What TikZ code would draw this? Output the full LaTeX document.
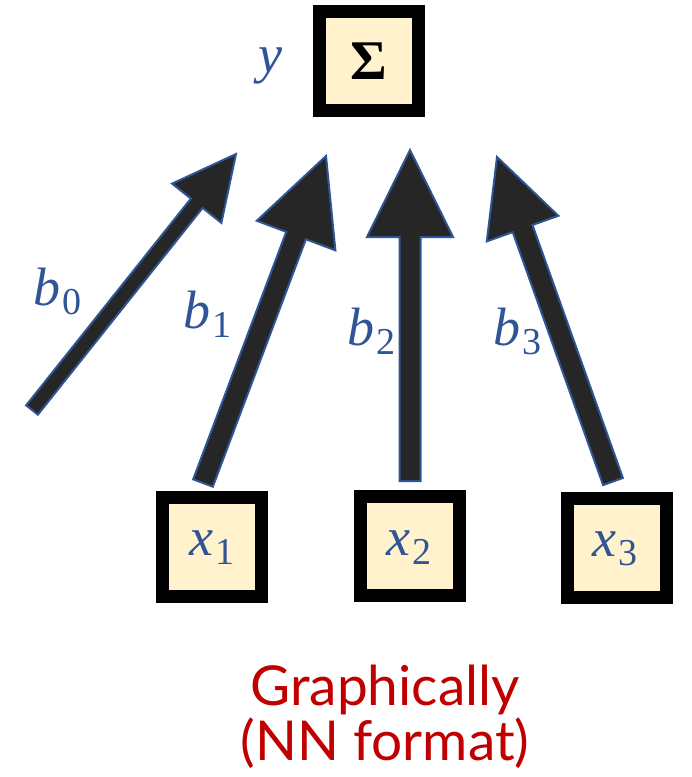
\documentclass[tikz,border=0pt]{standalone}
\usepackage{fontspec}
\newfontfamily\redfont{Lato}
\newfontfamily\sigfont{Liberation Serif}
\usetikzlibrary{calc}
\definecolor{cream}{HTML}{FFF2CC}
\definecolor{mblue}{HTML}{2F5597}
\definecolor{adark}{HTML}{262626}
\definecolor{mred}{HTML}{C00000}
\newcommand\blockarrow[5]{%
  \coordinate (H) at ($(#2)!#5!(#1)$);
  \draw[arrowstyle] ($(#1)!#3!90:(#2)$) -- ($(H)!#3!-90:(#1)$) -- ($(H)!#4!-90:(#1)$)
    -- (#2) -- ($(H)!#4!90:(#1)$) -- ($(H)!#3!90:(#1)$) -- ($(#1)!#3!-90:(#2)$) -- cycle;}
\newcommand\vsub[2]{{\itshape #1}\kern2pt\raisebox{-9pt}{\fontsize{38}{40}\selectfont #2}}
\begin{document}
\begin{tikzpicture}[x=1pt,y=-1pt,
  boxstyle/.style={draw=black,line width=13pt,fill=cream,minimum size=99pt,inner sep=0pt},
  arrowstyle/.style={draw=mblue,line width=2pt,fill=adark,line join=miter},
  lbl/.style={text=mblue,font=\sigfont\fontsize{54}{60}\selectfont,inner sep=0pt,anchor=base west},
  redtxt/.style={text=mred,font=\redfont\fontsize{55}{66}\selectfont,inner sep=0pt,anchor=base}]
\useasboundingbox (0,0) rectangle (692,777);
% boxes
\node[boxstyle,font=\sigfont\bfseries\fontsize{56}{60}\selectfont] (sum) at (369,61) {Σ};
\node[boxstyle] (x1) at (212,546.5) {};
\node[boxstyle] (x2) at (409.5,546) {};
\node[boxstyle] (x3) at (616.5,547.5) {};
\node[lbl] (lx1) at (189,555) {\vsub{x}{1}};
\node[lbl] (lx2) at (386,555) {\vsub{x}{2}};
\node[lbl] (lx3) at (592,556) {\vsub{x}{3}};
\node[lbl] (ly) at (258,72) {\itshape y};
% arrow end points
\coordinate (t0) at (32,410);   \coordinate (p0) at (236,154);
\coordinate (t1) at (203,483);  \coordinate (p1) at (326,156);
\coordinate (t2) at (410,481);  \coordinate (p2) at (410,150);
\coordinate (t3) at (613,481.5);\coordinate (p3) at (497,157);
\blockarrow{t0}{p0}{7.5pt}{31.5pt}{63pt}
\blockarrow{t1}{p1}{10.5pt}{42pt}{85pt}
\blockarrow{t2}{p2}{10.5pt}{43pt}{87pt}
\blockarrow{t3}{p3}{10.5pt}{38pt}{76pt}
% weight labels
\node[lbl] (b0) at (33,305) {\vsub{b}{0}};
\node[lbl] (b1) at (183,328) {\vsub{b}{1}};
\node[lbl] (b2) at (347,345) {\vsub{b}{2}};
\node[lbl] (b3) at (493,345) {\vsub{b}{3}};
% caption
\node[redtxt] (cap1) at (385,705) {Graphically};
\node[redtxt] (cap2) at (385,760) {(NN format)};
\end{tikzpicture}
\end{document}
